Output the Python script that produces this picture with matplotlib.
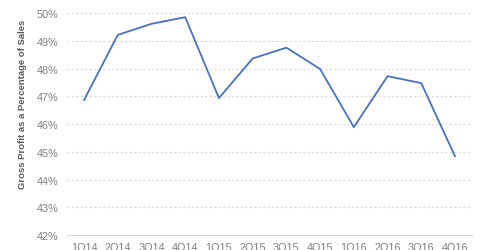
import matplotlib.pyplot as plt
from matplotlib.ticker import FuncFormatter

plt.rcParams['font.family'] = ['Liberation Sans', 'DejaVu Sans']

quarters = ['1Q14', '2Q14', '3Q14', '4Q14', '1Q15', '2Q15', '3Q15', '4Q15',
            '1Q16', '2Q16', '3Q16', '4Q16']
gross_margin = [46.87, 49.22, 49.62, 49.86, 46.94, 48.37, 48.76, 47.99,
                45.89, 47.73, 47.48, 44.84]

fig = plt.figure(figsize=(4.8, 2.51), dpi=100)
ax = fig.add_axes([0.14, 0.06, 0.843, 0.883])

ax.plot(range(len(quarters)), gross_margin, color='#4472C4', linewidth=1.3)

ax.set_xlim(-0.5, len(quarters) - 0.5)
ax.set_ylim(42, 50)
ax.set_yticks(range(42, 51))
ax.yaxis.set_major_formatter(FuncFormatter(lambda v, p: '%d%%' % v))
ax.set_xticks(range(len(quarters)))
ax.set_xticklabels(quarters)

ax.grid(axis='y', color='#D9D9D9', linestyle=(0, (2, 2)), linewidth=0.8)
ax.set_axisbelow(True)
for s in ['top', 'right', 'left']:
    ax.spines[s].set_visible(False)
ax.spines['bottom'].set_color('#D9D9D9')
ax.spines['bottom'].set_linewidth(0.8)

ax.tick_params(axis='both', length=0, labelsize=7.8, colors='#7F7F7F')
ax.tick_params(axis='y', pad=6.5)
ax.tick_params(axis='x', pad=5)

ax.set_ylabel('Gross Profit as a Percentage of Sales', fontsize=6.8,
              fontweight='bold', color='#595959')
ax.yaxis.set_label_coords(-0.1, 0.592)

fig.savefig('out.png', dpi=100)
